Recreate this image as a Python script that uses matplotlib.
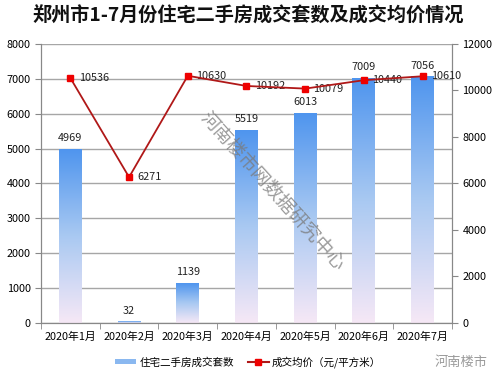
import numpy as np
import matplotlib.pyplot as plt
from matplotlib.colors import LinearSegmentedColormap
from matplotlib.lines import Line2D
from matplotlib.patches import Patch

plt.rcParams['font.family'] = ['Noto Sans CJK SC', 'DejaVu Sans']

# data
months = ["2020年1月", "2020年2月", "2020年3月", "2020年4月", "2020年5月", "2020年6月", "2020年7月"]
deals = [4969, 32, 1139, 5519, 6013, 7009, 7056]
prices = [10536, 6271, 10630, 10192, 10079, 10440, 10610]

fig = plt.figure(figsize=(5, 3.82), dpi=100)
ax = fig.add_axes([0.082, 0.1545, 0.822, 0.7305])
ax2 = ax.twinx()

x = np.arange(len(months))
w = 0.39

# gradient bars
cmap = LinearSegmentedColormap.from_list("barg", ["#f6e8f6", "#a9c9f2", "#4f95ee"])
grad = np.linspace(0, 1, 256).reshape(-1, 1)
for xi, v in zip(x, deals):
    ax.imshow(grad, extent=[xi - w / 2, xi + w / 2, 0, v], origin="lower",
              cmap=cmap, aspect="auto", zorder=2)
    ax.text(xi, v + 180, str(v), ha="center", va="bottom", fontsize=7.8, color="#222222")

ax.set_xlim(-0.5, len(months) - 0.5)
ax.set_ylim(0, 8000)
ax.set_yticks(range(0, 8001, 1000))
ax.grid(axis="y", color="#a6a6a6", linewidth=1.0, zorder=0)
ax.set_axisbelow(True)
ax.set_xticks(x)
ax.set_xticklabels(months, fontsize=7.8)
ax.set_xticks(np.arange(-0.5, len(months), 1), minor=True)
ax.tick_params(axis="x", which="major", length=0, pad=6)
ax.tick_params(axis="x", which="minor", length=4, color="#888888")
ax.tick_params(axis="y", labelsize=7.8, length=4, color="#888888")

ax2.plot(x, prices, color="#b01818", linewidth=1.3, marker="s", markersize=5,
         markerfacecolor="#ee0000", markeredgecolor="#ee0000", zorder=5)
for xi, p in zip(x, prices):
    ax2.text(xi + 0.14, p, str(p), ha="left", va="center", fontsize=7.8, color="#222222")
ax2.set_ylim(0, 12000)
ax2.set_yticks(range(0, 12001, 2000))
ax2.tick_params(axis="y", labelsize=7.8, length=4, color="#888888")

for a in (ax, ax2):
    a.spines["top"].set_visible(False)
    for s in ("left", "right", "bottom"):
        a.spines[s].set_color("#888888")

# watermark
fig.text(0.545, 0.50, "河南楼市网数据研究中心", rotation=-48, ha="center", va="center",
         fontsize=13.5, color="#7a7a7a", alpha=0.75, zorder=10)

# title
fig.text(0.497, 0.957, "郑州市1-7月份住宅二手房成交套数及成交均价情况", ha="center", va="center",
         fontsize=13.8, fontweight="bold", color="#111111")

# legend
handles = [Patch(facecolor="#8ab8f0", edgecolor="none"),
           Line2D([0], [0], color="#b01818", marker="s", markersize=4,
                  markerfacecolor="#ee0000", markeredgecolor="#ee0000")]
fig.legend(handles, ["住宅二手房成交套数", "成交均价（元/平方米）"], loc="center",
           bbox_to_anchor=(0.496, 0.052), ncol=2, frameon=False, fontsize=7.6,
           handlelength=2.0, handleheight=0.4, handletextpad=0.3, columnspacing=1.3)
fig.text(0.87, 0.052, "河南楼市", ha="left", va="center", fontsize=9.5, color="#9a9a9a")

fig.savefig("out.png", dpi=100)
